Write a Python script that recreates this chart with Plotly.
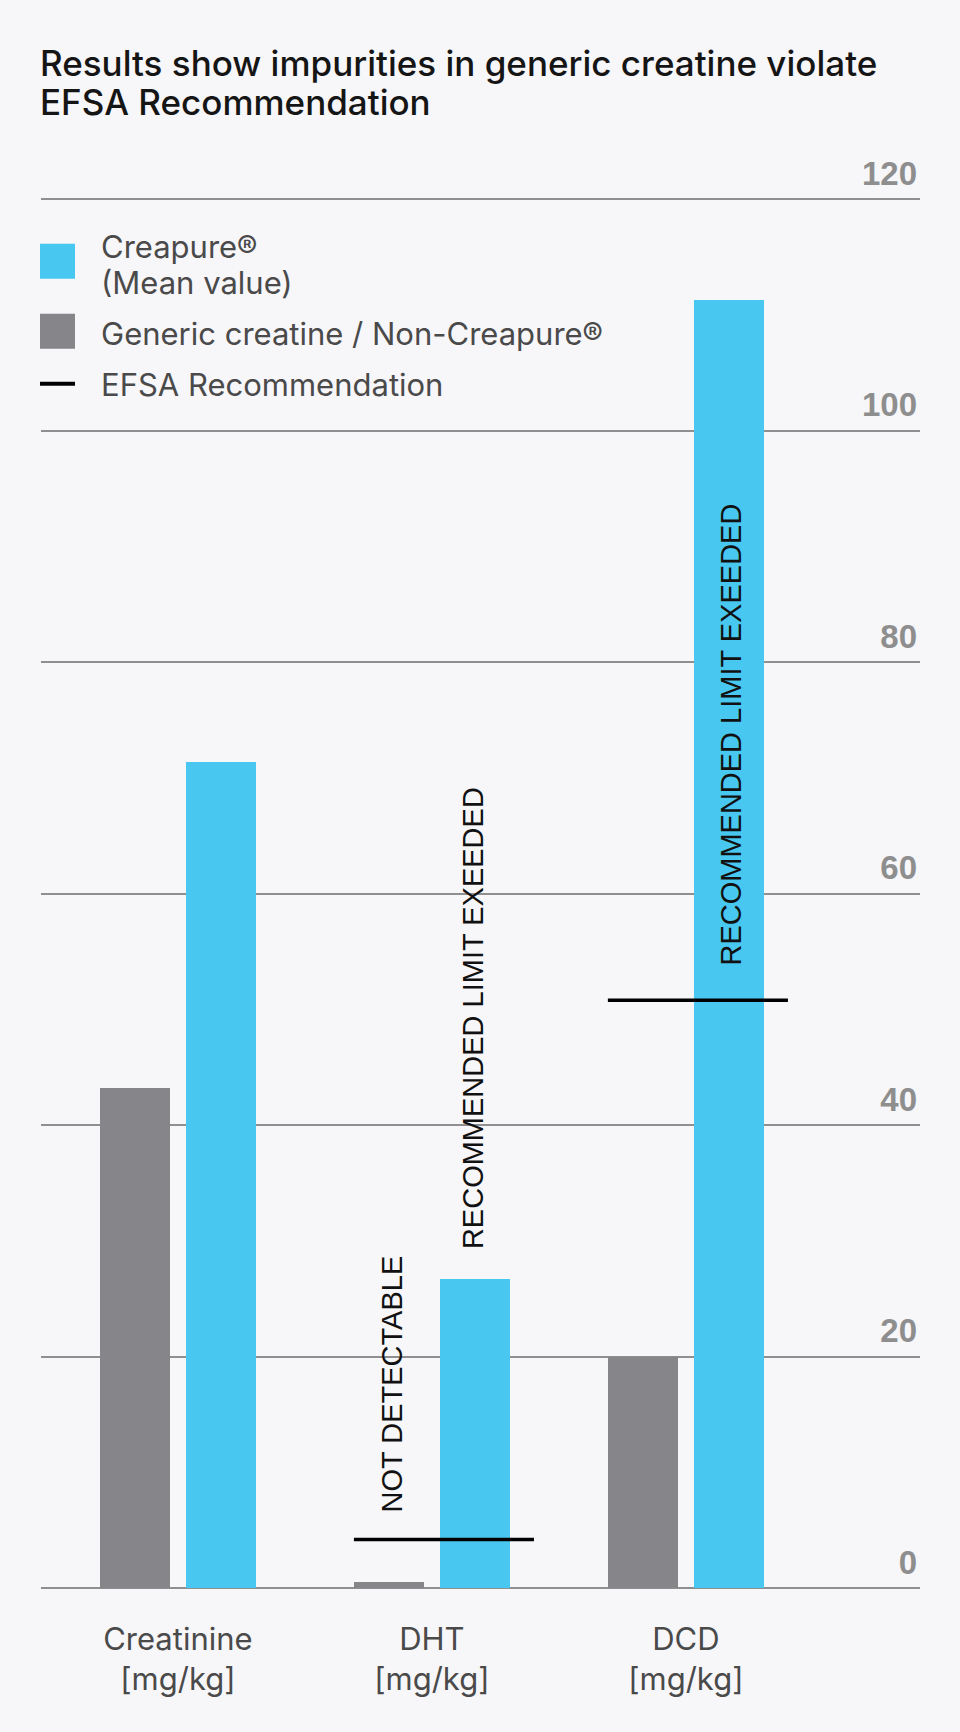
import plotly.graph_objects as go

# ---- data ----
categories = ["Creatinine<br>[mg/kg]", "DHT<br>[mg/kg]", "DCD<br>[mg/kg]"]
generic_values = [43.2, 0.55, 20.0]
creapure_values = [71.4, 26.7, 111.3]
efsa_limits = [None, 4.2, 50.8]
y_ticks = [0, 20, 40, 60, 80, 100, 120]
y_range = [-1.2, 124]

# ---- layout constants (pixels) ----
W, H = 960, 1732
UNIT = 11.575                      # px per data unit
ZERO_PX, TOP120_PX = 1588.5, 199.5
ML, MR = 41, 40
MT = TOP120_PX - (y_range[1] - 120) * UNIT
MB = H - (ZERO_PX + (0 - y_range[0]) * UNIT)
PW = W - ML - MR
PH = H - MT - MB

BLUE = "#48C8F1"
GREY = "#868589"
BG = "#F7F6F9"
TEXT = "#4a4a4a"

idx = list(range(len(categories)))
off = 0.169
bw = 0.2756


def px_x(px):
    return (px - ML) / PW


def px_y(py):
    return (H - MB - py) / PH


fig = go.Figure()
fig.add_trace(go.Bar(
    x=[i - off for i in idx], y=generic_values, width=bw,
    marker=dict(color=GREY, line=dict(width=0)),
    name="Generic creatine / Non-Creapure®", showlegend=False,
))
fig.add_trace(go.Bar(
    x=[i + off for i in idx], y=creapure_values, width=bw,
    marker=dict(color=BLUE, line=dict(width=0)),
    name="Creapure® (Mean value)", showlegend=False,
))

# EFSA recommendation lines
for i, lim in zip(idx, efsa_limits):
    if lim is None:
        continue
    fig.add_trace(go.Scatter(
        x=[i - 0.307, i + 0.402], y=[lim, lim], mode="lines",
        line=dict(color="#000000", width=3.5),
        name="EFSA Recommendation", showlegend=False, hoverinfo="skip",
    ))

ann_font = dict(family="Liberation Sans, Arial, sans-serif", size=29, color="#111111")
annotations = [
    dict(x=1 - 0.157, y=efsa_limits[1] + 2.2, xref="x", yref="y",
         text="NOT DETECTABLE", textangle=-90, showarrow=False,
         xanchor="center", yanchor="bottom", font=ann_font),
    dict(x=1 + 0.165, y=creapure_values[1] + 2.4, xref="x", yref="y",
         text="RECOMMENDED LIMIT EXEEDED", textangle=-90, showarrow=False,
         xanchor="center", yanchor="bottom", font=ann_font),
    dict(x=2 + 0.177, y=efsa_limits[2] + 2.8, xref="x", yref="y",
         text="RECOMMENDED LIMIT EXEEDED", textangle=-90, showarrow=False,
         xanchor="center", yanchor="bottom", font=ann_font),
]

leg_font = dict(family="Inter, sans-serif", size=31, color=TEXT)
legend_texts = [
    ("Creapure®", 247),
    ("(Mean value)", 283),
    ("Generic creatine / Non-Creapure®", 334),
    ("EFSA Recommendation", 385),
]
for t, cy in legend_texts:
    annotations.append(dict(
        x=px_x(99), y=px_y(cy), xref="paper", yref="paper", text=t,
        showarrow=False, xanchor="left", yanchor="middle", align="left",
        font=leg_font,
    ))

title_lines = [
    ("Results show impurities in generic creatine violate", 63),
    ("EFSA Recommendation", 102.5),
]
for t, cy in title_lines:
    annotations.append(dict(
        x=px_x(38), y=px_y(cy), xref="paper", yref="paper", text=t,
        showarrow=False, xanchor="left", yanchor="middle", align="left",
        font=dict(family="Inter, sans-serif", size=35, color="#151515", weight=500),
    ))

shapes = [
    dict(type="rect", xref="paper", yref="paper",
         x0=px_x(40), x1=px_x(75), y0=px_y(279), y1=px_y(244),
         fillcolor=BLUE, line=dict(width=0)),
    dict(type="rect", xref="paper", yref="paper",
         x0=px_x(40), x1=px_x(75), y0=px_y(349), y1=px_y(314),
         fillcolor=GREY, line=dict(width=0)),
    dict(type="line", xref="paper", yref="paper",
         x0=px_x(40), x1=px_x(75), y0=px_y(384), y1=px_y(384),
         line=dict(color="#000000", width=4)),
]

fig.update_layout(
    width=W, height=H,
    margin=dict(l=ML, r=MR, t=MT, b=MB, pad=0),
    paper_bgcolor=BG, plot_bgcolor=BG,
    showlegend=False,
    bargap=0, barmode="overlay",
    annotations=annotations, shapes=shapes,
    xaxis=dict(
        range=[-0.539, 2.922], tickvals=idx, ticktext=categories,
        showgrid=False, zeroline=False, showline=False, ticks="",
        tickfont=dict(family="Inter, sans-serif", size=31, color=TEXT),
        ticklabelstandoff=16, fixedrange=True,
    ),
    yaxis=dict(
        range=y_range, tickvals=y_ticks, side="right",
        ticklabelposition="inside top", ticklabelshift=-3,
        showgrid=True, gridcolor="#8f8f8f", gridwidth=1.8,
        zeroline=False, showline=False, ticks="",
        tickfont=dict(family="Liberation Sans, Arial, sans-serif", size=33,
                      color="#8e8e8e", weight=700),
        fixedrange=True,
    ),
)

fig.write_html(
    "out.html",
    config={"displayModeBar": False},
    post_script="document.body.style.margin='0px';"
                "document.body.style.backgroundColor='#F7F6F9';",
)
